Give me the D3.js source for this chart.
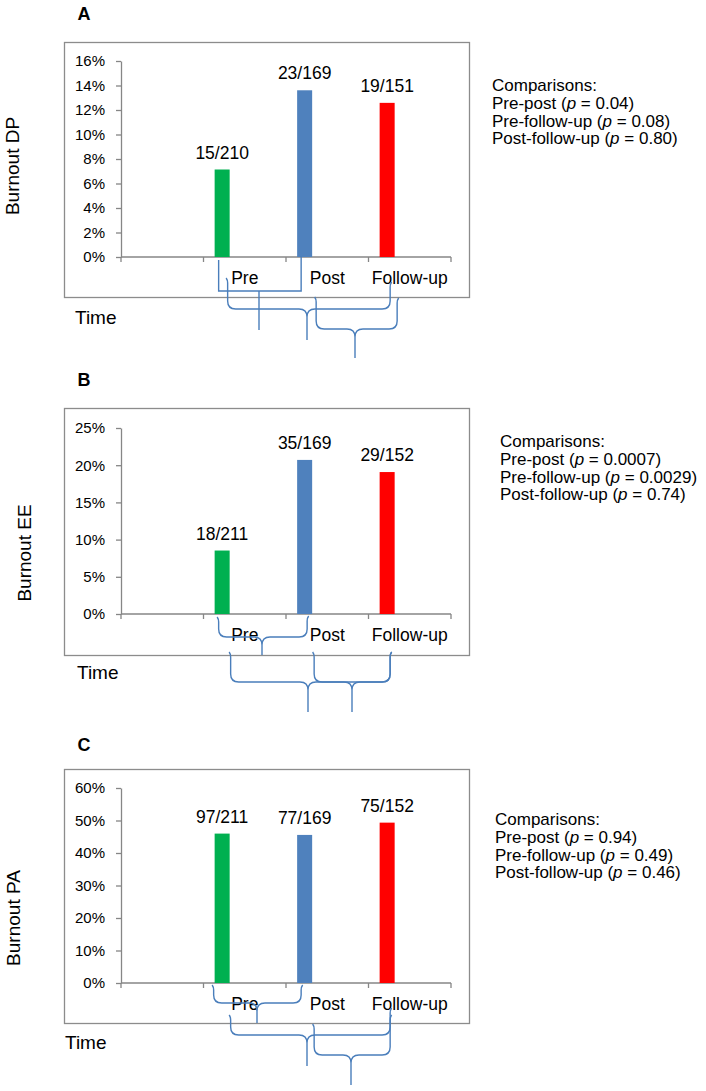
<!DOCTYPE html>
<html>
<head>
<meta charset="utf-8">
<script src="https://cdn.jsdelivr.net/npm/d3@7"></script>
<style>
  html, body { margin: 0; padding: 0; background: #fff; }
  svg { display: block; }
  text { font-family: "Liberation Sans", Arial, Helvetica, sans-serif; fill: #000; }
</style>
</head>
<body>
<svg id="chart" width="706" height="1091"></svg>
<script>
// ---------- data ----------
const categories = ["", "Pre", "Post", "Follow-up"];
const timepoints = ["Pre", "Post", "Follow-up"];
const barColors = ["#00B050", "#4F81BD", "#FF0000"];

const dpCases  = [15, 23, 19];
const dpTotals = [210, 169, 151];
const eeCases  = [18, 35, 29];
const eeTotals = [211, 169, 152];
const paCases  = [97, 77, 75];
const paTotals = [211, 169, 152];

const dpTicks = [0, 0.02, 0.04, 0.06, 0.08, 0.10, 0.12, 0.14, 0.16];
const eeTicks = [0, 0.05, 0.10, 0.15, 0.20, 0.25];
const paTicks = [0, 0.10, 0.20, 0.30, 0.40, 0.50, 0.60];

const dpComparisons = [["Pre-post", "0.04"], ["Pre-follow-up", "0.08"], ["Post-follow-up", "0.80"]];
const eeComparisons = [["Pre-post", "0.0007"], ["Pre-follow-up", "0.0029"], ["Post-follow-up", "0.74"]];
const paComparisons = [["Pre-post", "0.94"], ["Pre-follow-up", "0.49"], ["Post-follow-up", "0.46"]];

// ---------- layout ----------
const svg = d3.select("#chart");
const axisX0 = 121, axisX1 = 451;
const boxX = 64, boxW = 405;

const panels = [
  { letter: "A", title: "Burnout DP", cases: dpCases, totals: dpTotals, ticks: dpTicks, comps: dpComparisons,
    letterY: 20, boxTop: 42, boxBottom: 297, yTop: 61, y0: 257,
    titleX: 19, titleY: 166, timeX: 75, timeY: 324, compX: 492, compY: 91,
    brackets: [
      { kind: "square", x1: [1, -3.5], x2: [2, -3.5], tip: 259, l: 3, r: -1, bar: 34, end: 73 },
      { kind: "curly", x1: [1, 5.5], x2: [3, 3], tip: 307, l: 21, r: 25, bar: 52, end: 83 },
      { kind: "curly", x1: [2, 11.5], x2: [3, 10], tip: 355, l: 40, r: 41, bar: 72, end: 101 }
    ] },
  { letter: "B", title: "Burnout EE", cases: eeCases, totals: eeTotals, ticks: eeTicks, comps: eeComparisons,
    letterY: 386, boxTop: 408, boxBottom: 655, yTop: 428, y0: 614,
    titleX: 31, titleY: 553, timeX: 77, timeY: 679, compX: 500, compY: 447,
    brackets: [
      { kind: "curly", x1: [1, -3.5], x2: [2, 2.5], tip: 262, l: 3, r: 2, bar: 23, end: 41 },
      { kind: "curly", x1: [1, 8.5], x2: [3, 3], tip: 308, l: 38, r: 38, bar: 68, end: 98 },
      { kind: "curly", x1: [2, 9.5], x2: [3, 3], tip: 352, l: 38, r: 38, bar: 68, end: 98 }
    ] },
  { letter: "C", title: "Burnout PA", cases: paCases, totals: paTotals, ticks: paTicks, comps: paComparisons,
    letterY: 751, boxTop: 769, boxBottom: 1023, yTop: 788, y0: 983,
    titleX: 20, titleY: 918, timeX: 65, timeY: 1049, compX: 495, compY: 825,
    brackets: [
      { kind: "curly", x1: [1, -8.5], x2: [2, -3.5], tip: 257, l: 2, r: 2, bar: 20, end: 40 },
      { kind: "curly", x1: [1, 8.5], x2: [3, 3], tip: 307, l: 32, r: 25, bar: 52, end: 83 },
      { kind: "curly", x1: [2, 9.5], x2: [3, 3], tip: 351, l: 41, r: 32, bar: 72, end: 102 }
    ] }
];

const x = d3.scaleBand().domain(categories).range([axisX0, axisX1]).paddingInner(0).paddingOuter(0);
const bw = x.bandwidth();
const barOff = bw * 0.135, barW = bw * 0.182;
const barCenter = i => x(categories[i]) + barOff + barW / 2;

function bracePath(b, y0) {
  const x1 = barCenter(b.x1[0]) + b.x1[1];
  const x2 = barCenter(b.x2[0]) + b.x2[1];
  const yl = y0 + b.l, yr = y0 + b.r, yb = y0 + b.bar, ye = y0 + b.end, t = b.tip;
  const p = d3.path();
  if (b.kind === "square") {
    p.moveTo(x1, yl); p.lineTo(x1, yb); p.lineTo(x2, yb); p.lineTo(x2, yr);
    p.moveTo(t, yb); p.lineTo(t, ye);
    return p.toString();
  }
  const r = Math.min(8, (yb - Math.max(yl, yr)) * 0.6);
  const rt = Math.min(8, (ye - yb) * 0.45);
  p.moveTo(x1 - 1.5, yl);
  p.quadraticCurveTo(x1, yl + 2, x1, yl + 5);
  p.lineTo(x1, yb - r);
  p.quadraticCurveTo(x1, yb, x1 + r, yb);
  p.lineTo(t - rt, yb);
  p.quadraticCurveTo(t, yb, t, yb + rt);
  p.lineTo(t, ye);
  p.moveTo(t, yb + rt);
  p.quadraticCurveTo(t, yb, t + rt, yb);
  p.lineTo(x2 - r, yb);
  p.quadraticCurveTo(x2, yb, x2, yb - r);
  p.lineTo(x2, yr + 5);
  p.quadraticCurveTo(x2, yr + 2, x2 + 1.5, yr);
  return p.toString();
}

panels.forEach(P => {
  const g = svg.append("g");
  const y = d3.scaleLinear().domain([0, d3.max(P.ticks)]).range([P.y0, P.yTop]);
  const values = P.cases.map((c, i) => c / P.totals[i]);

  // panel letter
  g.append("text").attr("x", 84).attr("y", P.letterY).attr("text-anchor", "middle")
    .style("font-size", "18px").style("font-weight", "bold").text(P.letter);

  // frame
  g.append("rect").attr("x", boxX + 0.5).attr("y", P.boxTop + 0.5)
    .attr("width", boxW).attr("height", P.boxBottom - P.boxTop)
    .attr("fill", "none").attr("stroke", "#8c8c8c").attr("stroke-width", 1.3);

  // y axis
  const ya = g.append("g").attr("transform", `translate(${axisX0},0)`)
    .call(d3.axisLeft(y).tickValues(P.ticks).tickFormat(d3.format(".0%")).tickSize(5).tickSizeOuter(0).tickPadding(11));
  ya.select(".domain").attr("stroke", "#868686").attr("stroke-width", 1.3);
  ya.selectAll(".tick line").attr("stroke", "#868686").attr("stroke-width", 1.3);
  ya.selectAll(".tick text").style("font-size", "15px").style("font-family", "'Liberation Sans', Arial, sans-serif").attr("fill", "#000");

  // x axis (ticks at band boundaries)
  g.append("line").attr("x1", axisX0).attr("x2", axisX1).attr("y1", P.y0).attr("y2", P.y0)
    .attr("stroke", "#868686").attr("stroke-width", 1.3);
  const bounds = categories.map(c => x(c)).concat([axisX1]);
  g.selectAll(".xt").data(bounds).join("line")
    .attr("x1", d => d).attr("x2", d => d).attr("y1", P.y0).attr("y2", P.y0 + 5)
    .attr("stroke", "#868686").attr("stroke-width", 1.3);
  g.selectAll(".xl").data(categories.filter(c => c !== "")).join("text")
    .attr("x", d => x(d) + bw / 2).attr("y", P.y0 + 27).attr("text-anchor", "middle")
    .style("font-size", "17.5px").text(d => d);

  // bars
  g.selectAll(".bar").data(timepoints).join("rect")
    .attr("x", d => x(d) + barOff).attr("width", barW)
    .attr("y", (d, i) => y(values[i])).attr("height", (d, i) => P.y0 - y(values[i]))
    .attr("fill", (d, i) => barColors[i]);

  // value labels
  g.selectAll(".vl").data(timepoints).join("text")
    .attr("x", d => x(d) + barOff + barW / 2).attr("y", (d, i) => y(values[i]) - 11)
    .attr("text-anchor", "middle").style("font-size", "17.5px")
    .text((d, i) => `${P.cases[i]}/${P.totals[i]}`);

  // y title
  g.append("text").attr("transform", `translate(${P.titleX},${P.titleY}) rotate(-90)`)
    .attr("text-anchor", "middle").style("font-size", "19px").text(P.title);

  // Time label
  g.append("text").attr("x", P.timeX).attr("y", P.timeY).style("font-size", "19px").text("Time");

  // comparisons
  const ct = g.append("text").attr("x", P.compX).attr("y", P.compY).style("font-size", "17px");
  ct.append("tspan").attr("x", P.compX).attr("y", P.compY).text("Comparisons:");
  P.comps.forEach((c, i) => {
    const yy = P.compY + 17.8 * (i + 1);
    ct.append("tspan").attr("x", P.compX).attr("y", yy).text(`${c[0]} (`);
    ct.append("tspan").style("font-style", "italic").text("p");
    ct.append("tspan").text(` = ${c[1]})`);
  });

  // brackets
  g.selectAll(".br").data(P.brackets).join("path")
    .attr("d", b => bracePath(b, P.y0))
    .attr("fill", "none").attr("stroke", "#4A7EBB").attr("stroke-width", 1.4);
});
</script>
</body>
</html>
